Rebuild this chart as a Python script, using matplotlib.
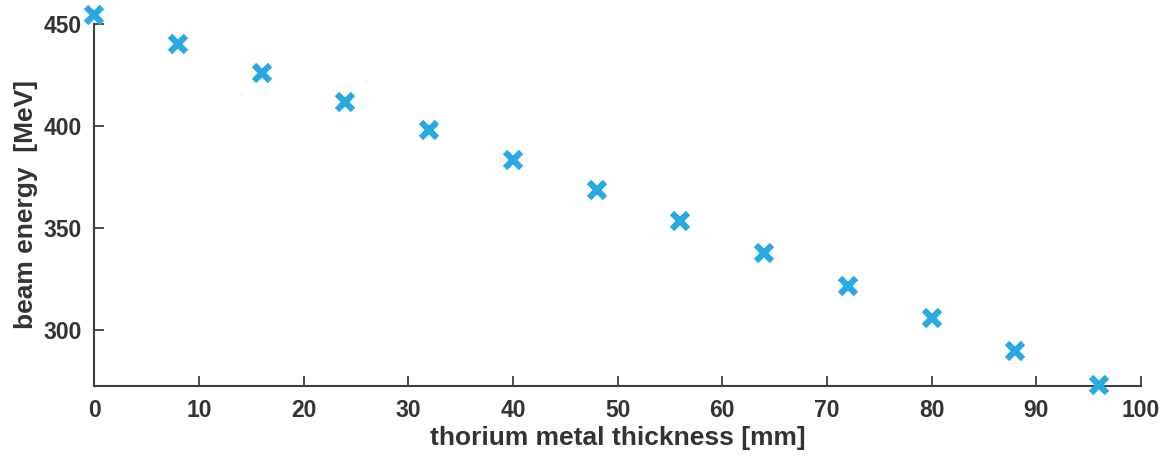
import matplotlib
matplotlib.use("Agg")
import matplotlib.pyplot as plt

# thickness [mm] and beam energy [MeV]
thickness = [0, 8, 16, 24, 32, 40, 48, 56, 64, 72, 80, 88, 96]
energy = [454.4, 440.2, 426.0, 411.8, 398.0, 383.3, 368.6, 353.4, 337.7, 321.6, 305.9, 289.7, 273.0]
x_ticks = [0, 10, 20, 30, 40, 50, 60, 70, 80, 90, 100]
y_ticks = [300, 350, 400, 450]

plt.rcParams['font.family'] = ['Liberation Sans', 'DejaVu Sans']
plt.rcParams['font.weight'] = 'bold'

fig = plt.figure(figsize=(11.62, 4.58), dpi=100)
ax = fig.add_axes([0.081, 0.157, 0.901, 0.791])

ax.plot(thickness, energy, linestyle='none', marker='x', markersize=11,
        markeredgewidth=4.5, color='#27aae1', clip_on=False, zorder=5)

ax.set_xlim(0, 100)
ax.set_ylim(272.5, 450)
ax.set_xticks(x_ticks)
ax.set_yticks(y_ticks)

for s in ['top', 'right']:
    ax.spines[s].set_visible(False)
for s in ['left', 'bottom']:
    ax.spines[s].set_color('#404040')
    ax.spines[s].set_linewidth(1.5)

ax.tick_params(direction='in', length=7, width=1.3, colors='#404040',
               labelsize=16.5, labelcolor='#333333', pad=9)
for lbl in ax.get_xticklabels() + ax.get_yticklabels():
    lbl.set_fontweight('bold')

ax.set_xlabel('thorium metal thickness [mm]', fontsize=19, fontweight='bold',
              color='#333333', labelpad=3)
ax.set_ylabel('beam energy  [MeV]', fontsize=19, fontweight='bold',
              color='#333333', labelpad=4)

fig.savefig('out.png', dpi=100)
